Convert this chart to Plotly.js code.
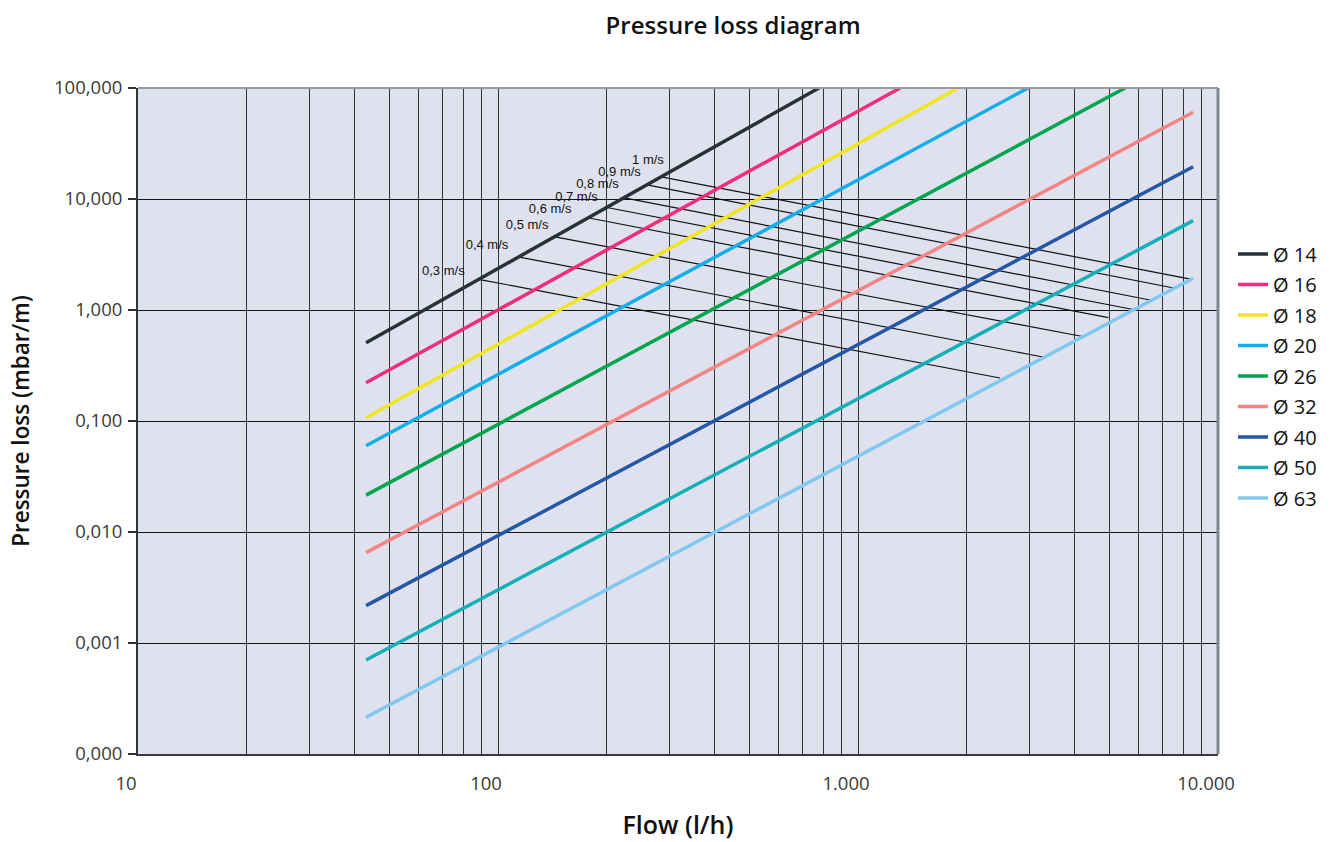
<!DOCTYPE html>
<html>
<head>
<meta charset="utf-8">
<script src="https://cdn.plot.ly/plotly-3.0.1.min.js"></script>
<style>html,body{margin:0;padding:0;background:#fff;}#chart{width:1336px;height:842px;}</style>
</head>
<body>
<div id="chart"></div>
<script>
// ---- data ----
const diameters = ['Ø 14','Ø 16','Ø 18','Ø 20','Ø 26','Ø 32','Ø 40','Ø 50','Ø 63'];
const flowStart = [43, 43, 43, 43, 43, 43, 43, 43, 43];
const lossStart = [0.507, 0.221, 0.107, 0.0598, 0.0215, 0.00652, 0.00217, 0.000703, 0.000214];
const flowEnd   = [779, 1309, 1896, 2965, 5520, 8530, 8530, 8530, 8530];
const lossEnd   = [100, 100, 100, 100, 100, 60.4, 19.5, 6.38, 1.93];

const velocityLabels = ['0,3 m/s','0,4 m/s','0,5 m/s','0,6 m/s','0,7 m/s','0,8 m/s','0,9 m/s','1 m/s'];
const velFlowStart = [89.1, 114.7, 144, 178.9, 200.9, 222.5, 259.4, 281.8];
const velLossStart = [1.88, 3.00, 4.55, 6.74, 8.38, 10.3, 13.4, 15.9];
const velFlowEnd   = [2480, 3293, 4244, 4960, 5818, 6474, 7596, 8452];
const velLossEnd   = [0.244, 0.375, 0.574, 0.853, 1.01, 1.23, 1.57, 1.89];
const labelFlow = [70.5, 93.2, 120.5, 139.6, 165.2, 188.9, 217.6, 261.0];
const labelLoss = [2.21, 3.80, 5.71, 8.08, 10.35, 13.37, 17.4, 22.1];

const xTickVals = [10, 100, 1000, 10000];
const xTickText = ['10', '100', '1.000', '10.000'];
const yTickVals = [0.0001, 0.001, 0.01, 0.1, 1, 10, 100];
const yTickText = ['0,000', '0,001', '0,010', '0,100', '1,000', '10,000', '100,000'];

// ---- styles ----
const colors = ['#263236', '#ee2d7c', '#f0e61e', '#14aeea', '#00a550', '#f38484', '#2457a6', '#14b0b8', '#80c8ef'];

const traces = [];
// velocity lines
for (let i = 0; i < velocityLabels.length; i++) {
  traces.push({
    type: 'scatter', mode: 'lines',
    x: [velFlowStart[i], velFlowEnd[i]],
    y: [velLossStart[i], velLossEnd[i]],
    line: {color: '#111111', width: 1.2},
    showlegend: false, hoverinfo: 'skip'
  });
}
// velocity labels
traces.push({
  type: 'scatter', mode: 'text',
  x: labelFlow, y: labelLoss, text: velocityLabels,
  textposition: 'middle center',
  textfont: {family: 'Liberation Sans, Arial, sans-serif', size: 13, color: '#111111'},
  showlegend: false, hoverinfo: 'skip', cliponaxis: false
});
// diameter lines
for (let i = 0; i < diameters.length; i++) {
  traces.push({
    type: 'scatter', mode: 'lines', name: diameters[i],
    legendgroup: diameters[i],
    x: [flowStart[i], flowEnd[i]],
    y: [lossStart[i], lossEnd[i]],
    line: {color: colors[i], width: 3.5}
  });
}

// minor vertical grid values (1..9 per decade)
const minorX = [];
for (let d = 10; d < 10000; d *= 10) for (let m = 2; m <= 9; m++) minorX.push(m * d);

const layout = {
  width: 1336, height: 842,
  margin: {l: 138, r: 118, t: 88, b: 88},
  paper_bgcolor: '#ffffff',
  plot_bgcolor: '#dfe2ee',
  font: {family: 'Open Sans, sans-serif', color: '#333333'},
  title: {
    text: 'Pressure loss diagram',
    font: {family: 'Open Sans, sans-serif', size: 24, weight: 600, color: '#111111'},
    x: 0.551, xref: 'paper', xanchor: 'center',
    y: 0.970, yref: 'container', yanchor: 'middle'
  },
  xaxis: {
    type: 'log', range: [1, 4],
    tickvals: xTickVals, ticktext: xTickText,
    ticks: '', ticklabelshift: -12, ticklabelstandoff: 12,
    tickfont: {size: 18.5, color: '#3a3a3a'},
    showgrid: true, gridcolor: '#333333', gridwidth: 1,
    minor: {tickvals: minorX, showgrid: true, gridcolor: '#333333', gridwidth: 1, ticks: ''},
    showline: true, linecolor: '#3a3a3a', linewidth: 2,
    zeroline: false, fixedrange: true,
    title: {text: 'Flow (l/h)', font: {size: 25, weight: 600, color: '#111111'}, standoff: 22}
  },
  yaxis: {
    type: 'log', range: [-4, 2],
    tickvals: yTickVals, ticktext: yTickText,
    ticks: 'outside', ticklen: 8, tickwidth: 1.5, tickcolor: '#333333',
    ticklabelstandoff: 2,
    tickfont: {size: 18.5, color: '#3a3a3a'},
    showgrid: true, gridcolor: '#111111', gridwidth: 1,
    showline: true, linecolor: '#333333', linewidth: 2,
    zeroline: false, fixedrange: true,
    title: {text: 'Pressure loss (mbar/m)', font: {size: 22.5, weight: 600, color: '#111111'}, standoff: 18}
  },
  legend: {
    x: 1.0139, xanchor: 'left', xref: 'paper',
    y: 0.780, yanchor: 'top', yref: 'paper',
    font: {family: 'Open Sans, sans-serif', size: 20, color: '#111111'},
    bgcolor: 'rgba(0,0,0,0)', borderwidth: 0,
    traceorder: 'grouped', tracegroupgap: 1.5
  },
  shapes: [
    {type: 'line', xref: 'paper', yref: 'paper', x0: 0, x1: 1, y0: 1, y1: 1, line: {color: '#9a9a9a', width: 2}},
    {type: 'line', xref: 'paper', yref: 'paper', x0: 1, x1: 1, y0: 0, y1: 1, line: {color: '#80868a', width: 3}}
  ],
  showlegend: true
};

Plotly.newPlot('chart', traces, layout, {displayModeBar: false, staticPlot: true});
</script>
</body>
</html>
